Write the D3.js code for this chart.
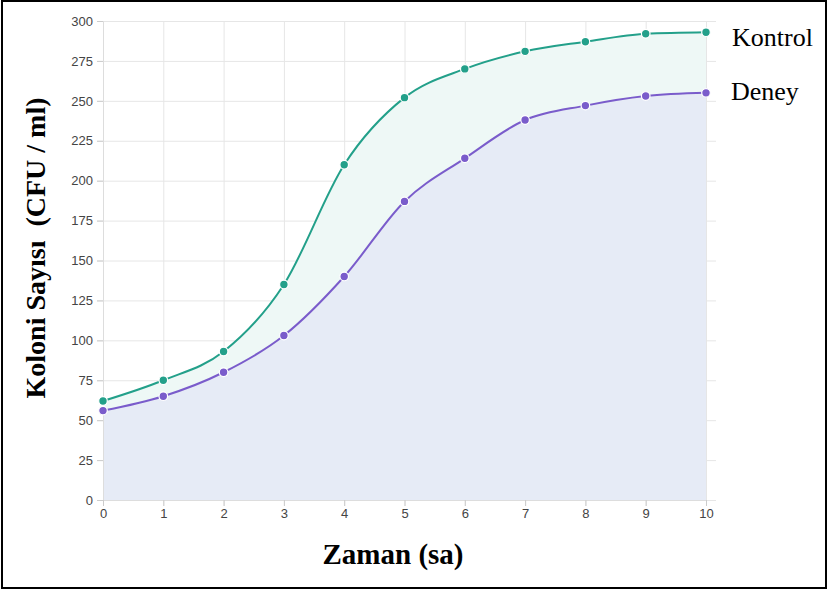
<!DOCTYPE html>
<html>
<head>
<meta charset="utf-8">
<script src="https://cdn.jsdelivr.net/npm/d3@7"></script>
<style>
  body { margin: 0; background: #fff; }
  .tick text { font-family: Arial, "Liberation Sans", sans-serif; font-size: 13px; fill: #444; }
  .grid line { stroke: #e6e6e6; }
  .title { font-family: "Liberation Serif", "Times New Roman", serif; fill: #000; }
</style>
</head>
<body>
<div id="chart"></div>
<script>
var hours = [0, 1, 2, 3, 4, 5, 6, 7, 8, 9, 10];
var kontrol = [62, 75, 93, 135, 210, 252, 270, 281, 287, 292, 293];
var deney = [56, 65, 80, 103, 140, 187, 214, 238, 247, 253, 255];
var yTicks = [0, 25, 50, 75, 100, 125, 150, 175, 200, 225, 250, 275, 300];

var width = 827, height = 590;
var svg = d3.select("#chart").append("svg")
    .attr("width", width)
    .attr("height", height);

// frame
svg.append("rect")
  .attr("x", 2).attr("y", 1)
  .attr("width", width - 3).attr("height", height - 3)
  .attr("fill", "none")
  .attr("stroke", "#000")
  .attr("stroke-width", 2);

var x = d3.scaleLinear().domain([0, 10]).range([103, 706]);
var y = d3.scaleLinear().domain([0, 300]).range([500, 21]);

// grid
var grid = svg.append("g").attr("class", "grid");
grid.selectAll(".h").data(yTicks).enter().append("line")
  .attr("x1", 97).attr("x2", 716)
  .attr("y1", function(d) { return y(d) + 0.5; })
  .attr("y2", function(d) { return y(d) + 0.5; });
grid.selectAll(".v").data(hours).enter().append("line")
  .attr("y1", 21).attr("y2", 506)
  .attr("x1", function(d) { return x(d) + 0.5; })
  .attr("x2", function(d) { return x(d) + 0.5; });

var seriesK = hours.map(function(h, i) { return {x: h, y: kontrol[i]}; });
var seriesD = hours.map(function(h, i) { return {x: h, y: deney[i]}; });

var area = d3.area()
    .x(function(d) { return x(d.x); })
    .y0(y(0))
    .y1(function(d) { return y(d.y); })
    .curve(d3.curveMonotoneX);
var line = d3.line()
    .x(function(d) { return x(d.x); })
    .y(function(d) { return y(d.y); })
    .curve(d3.curveMonotoneX);

svg.append("path").datum(seriesK).attr("d", area).attr("fill", "#eef8f6");
svg.append("path").datum(seriesD).attr("d", area).attr("fill", "#e6ebf6");

// axes
var yAxis = svg.append("g")
  .attr("transform", "translate(103,0)")
  .call(d3.axisLeft(y).tickValues(yTicks).tickSize(6).tickPadding(4));
var xAxis = svg.append("g")
  .attr("transform", "translate(0,500)")
  .call(d3.axisBottom(x).tickValues(hours).tickSize(6).tickPadding(3));
[yAxis, xAxis].forEach(function(a) {
  a.select(".domain").attr("stroke", "#ddd");
  a.selectAll(".tick line").attr("stroke", "#ccc");
});

var series = [
  {data: seriesK, color: "#23a08a"},
  {data: seriesD, color: "#7a5ccb"}
];
series.forEach(function(s) {
  svg.append("path").datum(s.data)
    .attr("d", line)
    .attr("fill", "none")
    .attr("stroke", s.color)
    .attr("stroke-width", 2);
  svg.append("g").selectAll("circle").data(s.data).enter().append("circle")
    .attr("cx", function(d) { return x(d.x); })
    .attr("cy", function(d) { return y(d.y); })
    .attr("r", 4.3)
    .attr("fill", s.color)
    .attr("stroke", "#fff")
    .attr("stroke-width", 1.2);
});

// labels
svg.append("text").attr("class", "title")
  .attr("x", 732).attr("y", 46)
  .attr("font-size", 26)
  .text("Kontrol");
svg.append("text").attr("class", "title")
  .attr("x", 731).attr("y", 100)
  .attr("font-size", 26)
  .text("Deney");
svg.append("text").attr("class", "title")
  .attr("x", 393).attr("y", 564)
  .attr("text-anchor", "middle")
  .attr("font-size", 29)
  .attr("font-weight", "bold")
  .text("Zaman (sa)");
svg.append("text").attr("class", "title")
  .attr("transform", "translate(45,248) rotate(-90)")
  .attr("text-anchor", "middle")
  .attr("font-size", 28)
  .attr("font-weight", "bold")
  .style("white-space", "pre")
  .text("Koloni Sayısı  (CFU / ml)");
</script>
</body>
</html>
